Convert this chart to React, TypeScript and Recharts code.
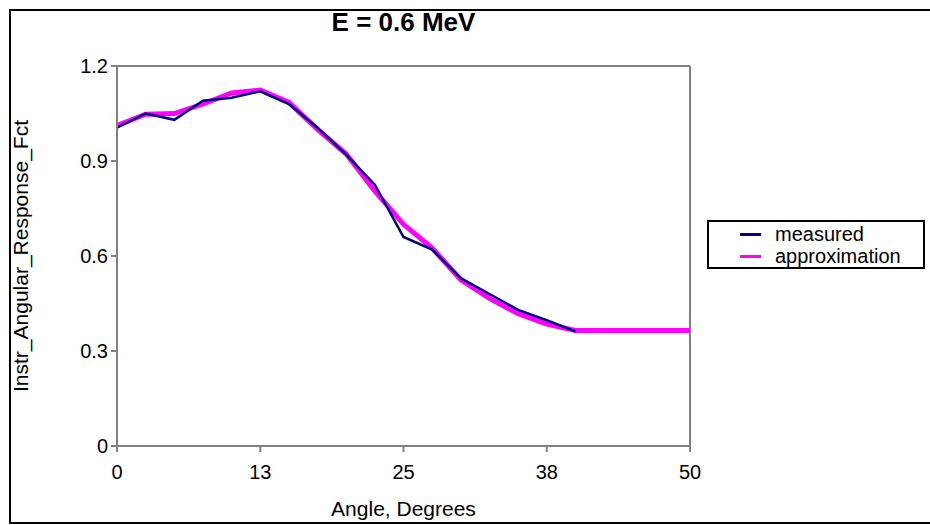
import { LineChart, Line, XAxis, YAxis, ReferenceLine, Legend } from 'recharts'

const measuredAngles = [0, 2.5, 5, 7.5, 10, 12.5, 15, 17.5, 20, 22.5, 25, 27.5, 30, 32.5, 35, 37.5, 40]
const measuredValues = [1.005, 1.05, 1.03, 1.09, 1.1, 1.12, 1.08, 1.005, 0.92, 0.825, 0.66, 0.62, 0.53, 0.48, 0.43, 0.397, 0.362]

const approxAngles = [0, 2.5, 5, 7.5, 10, 12.5, 15, 17.5, 20, 22.5, 25, 27.5, 30, 32.5, 35, 37.5, 40, 42.5, 45, 47.5, 50]
const approxValues = [1.012, 1.048, 1.05, 1.08, 1.115, 1.124, 1.085, 1.0, 0.922, 0.805, 0.7, 0.625, 0.525, 0.466, 0.418, 0.385, 0.365, 0.365, 0.365, 0.365, 0.365]

const xTicks = [0, 12.5, 25, 37.5, 50]
const yTicks = [0, 0.3, 0.6, 0.9, 1.2]

const measured = measuredAngles.map((x, i) => ({ x, y: measuredValues[i] }))
const approximation = approxAngles.map((x, i) => ({ x, y: approxValues[i] }))

const FONT = '"Liberation Sans", Arial, sans-serif'
const AXIS = '#808080'

function LegendBox() {
  const items = [
    { label: 'measured', color: '#000080' },
    { label: 'approximation', color: '#ff00ff' },
  ]
  return (
    <div
      style={{
        border: '2px solid #000',
        width: 214,
        height: 44,
        boxSizing: 'content-box',
        fontFamily: FONT,
        fontSize: 20,
        paddingTop: 1,
      }}
    >
      {items.map((it) => (
        <div key={it.label} style={{ display: 'flex', alignItems: 'center', height: 22 }}>
          <span style={{ display: 'inline-block', width: 21, height: 3, background: it.color, marginLeft: 31, marginRight: 14 }} />
          <span>{it.label}</span>
        </div>
      ))}
    </div>
  )
}

export default function App() {
  return (
    <div style={{ position: 'absolute', left: 0, top: 0, width: 930, height: 525, overflow: 'hidden', background: '#fff' }}>
      <div
        style={{
          position: 'absolute',
          left: 9,
          top: 9,
          width: 940,
          height: 511,
          border: '2px solid #000',
        }}
      />
      <div
        style={{
          position: 'absolute',
          left: 117,
          width: 573,
          top: 7,
          textAlign: 'center',
          fontFamily: FONT,
          fontWeight: 'bold',
          fontSize: 26,
        }}
      >
        E = 0.6 MeV
      </div>
      <div style={{ position: 'absolute', left: 0, top: 0 }}>
        <LineChart
          width={930}
          height={525}
          margin={{ top: 66, right: 240, left: 0, bottom: 0 }}
          style={{ fontFamily: FONT }}
        >
          <XAxis
            type="number"
            dataKey="x"
            domain={[0, 50]}
            ticks={xTicks}
            tickFormatter={(v: number) => String(Math.round(v))}
            height={79}
            stroke={AXIS}
            strokeWidth={2}
            tickSize={6}
            tickMargin={13}
            tick={{ fill: '#000', fontSize: 20 }}
            label={{ value: 'Angle, Degrees', position: 'insideBottom', offset: 9, fill: '#000', fontSize: 21 }}
          />
          <YAxis
            type="number"
            dataKey="y"
            domain={[0, 1.2]}
            ticks={yTicks}
            width={117}
            stroke={AXIS}
            strokeWidth={2}
            tickSize={6}
            tickMargin={3}
            tick={{ fill: '#000', fontSize: 20 }}
            label={{
              value: 'Instr_Angular_Response_Fct',
              angle: -90,
              position: 'insideLeft',
              offset: 21,
              fill: '#000',
              fontSize: 21,
              style: { textAnchor: 'middle' },
            }}
          />
          <ReferenceLine y={1.2} stroke={AXIS} strokeWidth={2} />
          <ReferenceLine x={50} stroke={AXIS} strokeWidth={2} />
          <Line
            data={approximation}
            dataKey="y"
            type="linear"
            stroke="#ff00ff"
            strokeWidth={5}
            dot={false}
            isAnimationActive={false}
          />
          <Line
            data={measured}
            dataKey="y"
            type="linear"
            stroke="#000080"
            strokeWidth={2.5}
            dot={false}
            isAnimationActive={false}
          />
          <Legend
            layout="vertical"
            align="center"
            verticalAlign="middle"
            content={() => <LegendBox />}
            wrapperStyle={{ left: 707, top: 220, width: 218 }}
          />
        </LineChart>
      </div>
    </div>
  )
}
